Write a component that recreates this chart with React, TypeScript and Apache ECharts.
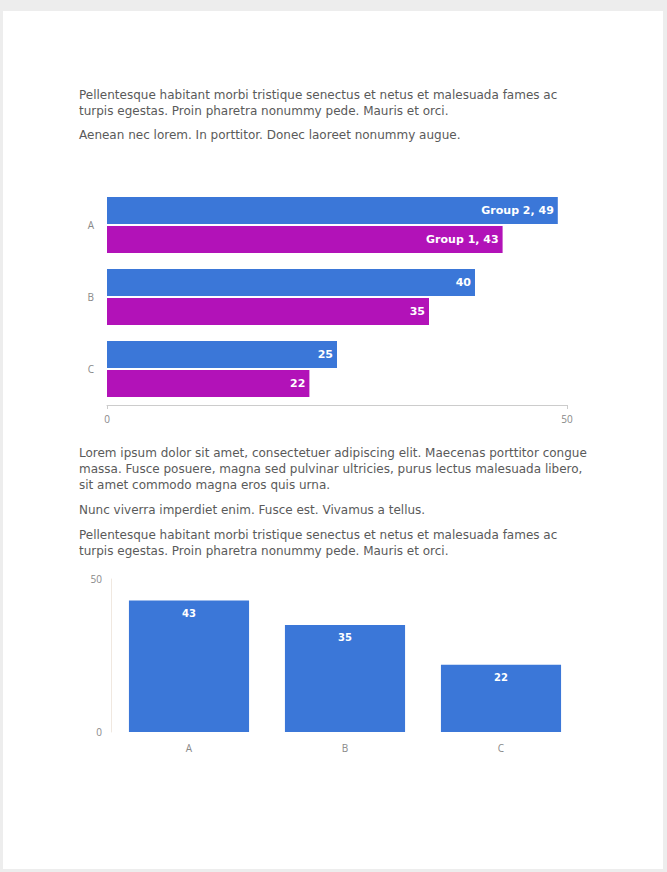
import React, { useEffect, useRef } from "react";
import * as echarts from "echarts";

const hCategories = ["A", "B", "C"];
const group2Values = [49, 40, 25];
const group1Values = [43, 35, 22];
const vCategories = ["A", "B", "C"];
const vValues = [43, 35, 22];

const para1 = [
  "Pellentesque habitant morbi tristique senectus et netus et malesuada fames ac",
  "turpis egestas. Proin pharetra nonummy pede. Mauris et orci.",
];
const para2 = ["Aenean nec lorem. In porttitor. Donec laoreet nonummy augue."];
const para3 = [
  "Lorem ipsum dolor sit amet, consectetuer adipiscing elit. Maecenas porttitor congue",
  "massa. Fusce posuere, magna sed pulvinar ultricies, purus lectus malesuada libero,",
  "sit amet commodo magna eros quis urna.",
];
const para4 = ["Nunc viverra imperdiet enim. Fusce est. Vivamus a tellus."];
const para5 = [
  "Pellentesque habitant morbi tristique senectus et netus et malesuada fames ac",
  "turpis egestas. Proin pharetra nonummy pede. Mauris et orci.",
];

const FONT = "'Open Sans', sans-serif";
const WIDE = "'DejaVu Sans', sans-serif";
const BLUE = "#3b77d8";
const PURPLE = "#b212b8";

function textLines(lines: string[], y0: number) {
  return lines.map((t, i) => ({
    type: "text",
    x: 79,
    y: y0 + i * 16,
    style: {
      text: t,
      fill: "#5a5a5a",
      font: `12px ${WIDE}`,
      textVerticalAlign: "middle",
    },
  }));
}

export default function App() {
  const ref = useRef<HTMLDivElement>(null);
  useEffect(() => {
    const chart = echarts.init(ref.current!, null, { renderer: "svg" });
    const labelStyle = {
      color: "#fff",
      fontWeight: "bold" as const,
      fontSize: 11,
      fontFamily: WIDE,
    };
    chart.setOption({
      animation: false,
      backgroundColor: "#ededed",
      graphic: [
        { type: "rect", shape: { x: 3, y: 11, width: 660, height: 858 }, style: { fill: "#fff" }, z: -10 },
        ...textLines(para1, 95),
        ...textLines(para2, 135),
        ...textLines(para3, 453),
        ...textLines(para4, 510),
        ...textLines(para5, 535),
      ],
      grid: [
        { left: 107, top: 189, width: 460, height: 216 },
        { left: 111, top: 579, width: 468, height: 153 },
      ],
      xAxis: [
        {
          gridIndex: 0,
          type: "value",
          min: 0,
          max: 50,
          interval: 50,
          axisLine: { show: true, lineStyle: { color: "#ccc" } },
          axisTick: { show: true, length: 4, lineStyle: { color: "#ccc" } },
          splitLine: { show: false },
          axisLabel: { color: "#888", fontSize: 10, fontFamily: FONT, margin: 9 },
        },
        {
          gridIndex: 1,
          type: "category",
          data: vCategories,
          axisLine: { show: false },
          axisTick: { show: false },
          axisLabel: { color: "#888", fontSize: 10, fontFamily: FONT, margin: 11 },
        },
      ],
      yAxis: [
        {
          gridIndex: 0,
          type: "category",
          data: hCategories,
          inverse: true,
          axisLine: { show: false },
          axisTick: { show: false },
          axisLabel: { color: "#888", fontSize: 10, fontFamily: FONT, margin: 13 },
        },
        {
          gridIndex: 1,
          type: "value",
          min: 0,
          max: 50,
          interval: 50,
          axisLine: { show: true, lineStyle: { color: "#f0e8e0" } },
          axisTick: { show: false },
          splitLine: { show: false },
          axisLabel: { color: "#888", fontSize: 10, fontFamily: FONT, margin: 9 },
        },
      ],
      series: [
        {
          name: "Group 2",
          type: "bar",
          xAxisIndex: 0,
          yAxisIndex: 0,
          data: group2Values,
          itemStyle: { color: BLUE },
          barGap: "7%",
          barCategoryGap: "22%",
          label: {
            show: true,
            position: "insideRight",
            distance: 4,
            ...labelStyle,
            formatter: (p: any) => (p.dataIndex === 0 ? `${p.seriesName}, ${p.value}` : `${p.value}`),
          },
        },
        {
          name: "Group 1",
          type: "bar",
          xAxisIndex: 0,
          yAxisIndex: 0,
          data: group1Values,
          itemStyle: { color: PURPLE },
          barGap: "7%",
          barCategoryGap: "22%",
          label: {
            show: true,
            position: "insideRight",
            distance: 4,
            ...labelStyle,
            formatter: (p: any) => (p.dataIndex === 0 ? `${p.seriesName}, ${p.value}` : `${p.value}`),
          },
        },
        {
          name: "Values",
          type: "bar",
          xAxisIndex: 1,
          yAxisIndex: 1,
          data: vValues,
          itemStyle: { color: BLUE },
          barCategoryGap: "23%",
          label: {
            show: true,
            position: "insideTop",
            distance: 8,
            ...labelStyle,
            fontSize: 10,
          },
        },
      ],
    });
    return () => chart.dispose();
  }, []);
  return (
    <div
      ref={ref}
      style={{ position: "absolute", left: 0, top: 0, width: 667, height: 872 }}
    />
  );
}
